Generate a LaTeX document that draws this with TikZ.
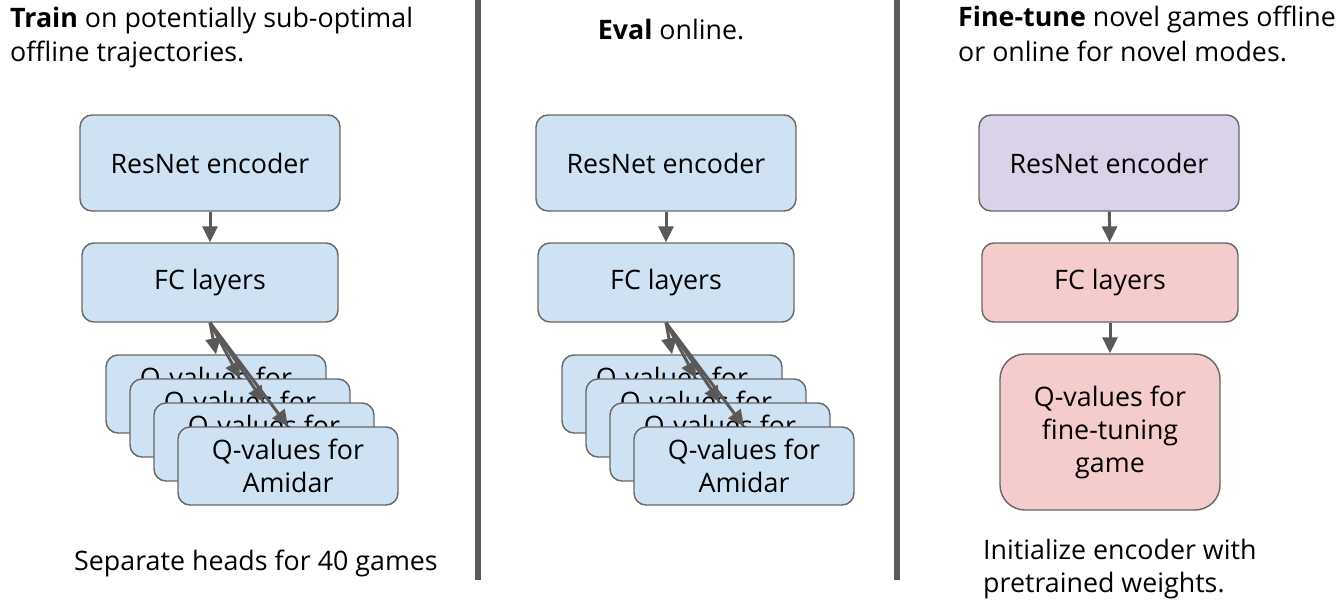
\documentclass[tikz,border=0pt]{standalone}
\usepackage{fontspec}
\setmainfont{Open Sans}
\usetikzlibrary{arrows.meta}
\definecolor{qblue}{HTML}{CFE2F3}
\definecolor{qpurple}{HTML}{D9D2E9}
\definecolor{qpink}{HTML}{F4CCCC}
\definecolor{edgegray}{HTML}{666666}
\definecolor{arrgray}{HTML}{595959}
\definecolor{sepgray}{HTML}{5B5B5B}
\begin{document}
\begin{tikzpicture}[x=1pt,y=-1pt,
  txt/.style={font=\fontsize{26.8}{33}\selectfont, inner sep=0pt, text=black},
  box/.style={draw=edgegray, line width=1.4pt, rounded corners=12pt, align=center,
    inner sep=0pt, font=\fontsize{26.8}{33}\selectfont},
  encbox/.style={box, minimum width=260pt, minimum height=96pt},
  fcbox/.style={box, minimum width=256pt, minimum height=79pt},
  qbox/.style={box, fill=qblue, minimum width=220pt, minimum height=78pt},
  arr/.style={draw=arrgray, line width=3pt, -{Triangle[length=16pt,width=15pt]}},
  sepline/.style={draw=sepgray, line width=6pt}
]
\useasboundingbox (0,0) rectangle (1343,602);

% separators
\coordinate (s1t) at (478,0);
\coordinate (s1b) at (478,580);
\coordinate (s2t) at (897,0);
\coordinate (s2b) at (897,580);
\draw[sepline] (s1t) -- (s1b);
\draw[sepline] (s2t) -- (s2b);

% ---------- left panel ----------
\node[txt, anchor=base west] (h1a) at (10,28) {\textbf{Train} on potentially sub-optimal};
\node[txt, anchor=base west] (h1b) at (10,61) {offline trajectories.};
\node[encbox, fill=qblue] (res1) at (210,163) {ResNet encoder};
\node[fcbox, fill=qblue] (fc1) at (210,282.5) {FC layers};
\node[qbox] (q1a) at (216,394) {Q-values for\\\phantom{Amidar}};
\node[qbox] (q1b) at (240,418) {Q-values for\\\phantom{Amidar}};
\node[qbox] (q1c) at (264,442) {Q-values for\\\phantom{Amidar}};
\node[qbox] (q1d) at (288,466) {Q-values for\\Amidar};
\draw[arr] (res1) -- (fc1);
\draw[arr] (fc1.south) -- (q1a.north);
\draw[arr] (fc1.south) -- (q1b.north);
\draw[arr] (fc1.south) -- (q1c.north);
\draw[arr] (fc1.south) -- (q1d.north);
\node[txt, anchor=base] (f1) at (256,570) {Separate heads for 40 games};

% ---------- middle panel ----------
\node[txt, anchor=base] (h2) at (671,40) {\textbf{Eval} online.};
\node[encbox, fill=qblue] (res2) at (666,163) {ResNet encoder};
\node[fcbox, fill=qblue] (fc2) at (666,282.5) {FC layers};
\node[qbox] (q2a) at (672,394) {Q-values for\\\phantom{Amidar}};
\node[qbox] (q2b) at (696,418) {Q-values for\\\phantom{Amidar}};
\node[qbox] (q2c) at (720,442) {Q-values for\\\phantom{Amidar}};
\node[qbox] (q2d) at (744,466) {Q-values for\\Amidar};
\draw[arr] (res2) -- (fc2);
\draw[arr] (fc2.south) -- (q2a.north);
\draw[arr] (fc2.south) -- (q2b.north);
\draw[arr] (fc2.south) -- (q2c.north);
\draw[arr] (fc2.south) -- (q2d.north);

% ---------- right panel ----------
\node[txt, anchor=base west] (h3a) at (958,27) {\textbf{Fine-tune} novel games offline};
\node[txt, anchor=base west] (h3b) at (958,61) {or online for novel modes.};
\node[encbox, fill=qpurple] (res3) at (1109,163) {ResNet encoder};
\node[fcbox, fill=qpink] (fc3) at (1110,282.5) {FC layers};
\node[box, fill=qpink, rounded corners=25pt, minimum width=220pt, minimum height=156pt]
  (q3) at (1110,432) {Q-values for\\fine-tuning\\game};
\draw[arr] (res3) -- (fc3);
\draw[arr] (fc3) -- (q3);
\node[txt, anchor=base west] (f3a) at (983,559) {Initialize encoder with};
\node[txt, anchor=base west] (f3b) at (983,592) {pretrained weights.};
\end{tikzpicture}
\end{document}
